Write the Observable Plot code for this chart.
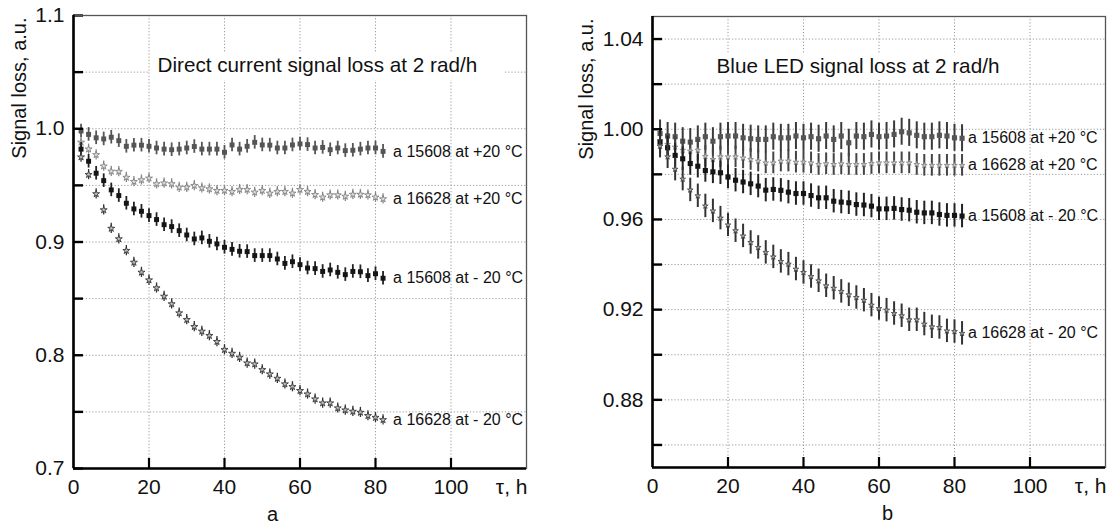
<!DOCTYPE html>
<html><head><meta charset="utf-8">
<script src="https://cdn.jsdelivr.net/npm/d3@7"></script>
<script src="https://cdn.jsdelivr.net/npm/@observablehq/plot@0.6"></script>
<style>
body{margin:0;background:#fff;}
#wrap{display:flex;width:1109px;height:524px;overflow:hidden;}
#wrap svg{flex:none;}
</style></head><body><div id="wrap"></div>
<script>
// ---------- data ----------
const hours = [2,4,6,8,10,12,14,16,18,20,22,24,26,28,30,32,34,36,38,40,42,44,46,48,50,52,54,56,58,60,62,64,66,68,70,72,74,76,78,80,82];

// panel a: Direct current signal loss
const dc15608p20 = [0.998,0.995,0.992,0.991,0.9925,0.9895,0.9845,0.9855,0.9855,0.9845,0.983,0.982,0.9815,0.982,0.983,0.9843,0.982,0.982,0.982,0.9792,0.9857,0.982,0.9845,0.988,0.9857,0.9855,0.983,0.983,0.9857,0.9866,0.986,0.983,0.9835,0.9815,0.983,0.9807,0.981,0.982,0.983,0.983,0.980];
const dc16628p20 = [0.988,0.982,0.977,0.967,0.9624,0.9622,0.957,0.9533,0.9548,0.9563,0.9513,0.952,0.9513,0.9483,0.9483,0.9498,0.9477,0.9468,0.9454,0.9454,0.9445,0.9463,0.9463,0.9439,0.9454,0.943,0.9445,0.9445,0.943,0.9463,0.9445,0.9418,0.9395,0.9415,0.9415,0.9403,0.942,0.942,0.9415,0.9395,0.938];
const dc15608m20 = [0.982,0.9713,0.9607,0.9542,0.946,0.941,0.9342,0.9292,0.9271,0.9233,0.9198,0.9153,0.9136,0.91,0.9062,0.9027,0.9036,0.9006,0.8983,0.8953,0.8935,0.8918,0.8915,0.888,0.888,0.888,0.885,0.8811,0.8826,0.88,0.877,0.8765,0.874,0.8753,0.8732,0.8712,0.874,0.8737,0.8703,0.872,0.868];
const dc16628m20 = [0.975,0.9595,0.9425,0.9283,0.912,0.9027,0.8924,0.882,0.8732,0.8664,0.8594,0.852,0.8453,0.8373,0.8314,0.8252,0.8211,0.8173,0.812,0.8049,0.8016,0.7981,0.7931,0.7922,0.7872,0.7834,0.7795,0.7746,0.7722,0.7687,0.7657,0.7613,0.7578,0.7578,0.7534,0.7516,0.7504,0.7495,0.7466,0.745,0.743];
const dcErr = [0.006,0.0045,0.006,0.0045];

// panel b: Blue LED signal loss
const led15608p20 = [0.9981,0.997,0.9967,0.9947,0.9943,0.9955,0.9967,0.9947,0.9967,0.997,0.997,0.9962,0.9958,0.9955,0.9955,0.9967,0.9962,0.9962,0.997,0.9962,0.9967,0.9958,0.997,0.9955,0.997,0.994,0.997,0.9967,0.9977,0.9967,0.997,0.9977,0.9989,0.9984,0.9973,0.9967,0.9967,0.9973,0.997,0.9962,0.996];
const led16628p20 = [0.995,0.9933,0.9921,0.9907,0.9903,0.9907,0.988,0.9866,0.9878,0.9878,0.9878,0.9873,0.9866,0.9859,0.9851,0.9851,0.9859,0.9859,0.9854,0.9854,0.9851,0.9844,0.9847,0.9844,0.9847,0.9844,0.9844,0.9844,0.9848,0.9851,0.9851,0.9851,0.9851,0.9851,0.9844,0.984,0.984,0.984,0.984,0.984,0.984];
const led15608m20 = [0.9943,0.9918,0.9884,0.9869,0.9848,0.9836,0.9817,0.9811,0.9807,0.9788,0.9774,0.9766,0.9758,0.9748,0.973,0.9733,0.9729,0.9721,0.9715,0.9715,0.9706,0.9696,0.9696,0.9681,0.9677,0.9674,0.9666,0.9664,0.9659,0.9647,0.9647,0.9649,0.9644,0.9641,0.9632,0.9629,0.9629,0.9622,0.9618,0.9618,0.9615];
const led16628m20 = [0.9925,0.9878,0.9823,0.9779,0.9731,0.9705,0.966,0.9638,0.9606,0.9576,0.955,0.9527,0.9498,0.9476,0.9454,0.9434,0.9414,0.9402,0.938,0.9365,0.9347,0.9328,0.9306,0.9295,0.9281,0.9266,0.9254,0.9242,0.922,0.9205,0.9198,0.9183,0.9173,0.9155,0.9155,0.9136,0.9124,0.9121,0.9106,0.9103,0.9095];
const ledErr = [0.006,0.0048,0.0052,0.0052];

const seriesLabels = ["a 15608 at +20 °C","a 16628 at +20 °C","a 15608 at - 20 °C","a 16628 at - 20 °C"];
const xTickLabels = [0,20,40,60,80,100];
const xGrid = [20,40,60,80,100];
const dcYTicks = [0.7,0.8,0.9,1.0,1.1];
const dcYMinor = [0.75,0.85,0.95,1.05];
const ledYTicks = [0.88,0.92,0.96,1.00,1.04];
const ledYMinor = [0.86,0.90,0.94,0.98,1.02];
const titles = ["Direct current signal loss at 2 rad/h","Blue LED signal loss at 2 rad/h"];
const captions = ["a","b"];
const yLabel = "Signal loss, a.u.";
const xLabel = "τ, h";

// ---------- drawing ----------
const FONT = "'Liberation Sans', Arial, Helvetica, sans-serif";
const H = 524;
const TICKFONT = 21;

function panel(cfg) {
  const {width, ml, mr, mt, mb, yDomain, yTicks, yMinor, fmt, series, errs, styles,
         title, titleDx, box, caption, captionDx, ylabelDx, labelDx} = cfg;
  const plotW = width - ml - mr, plotH = H - mt - mb;
  const marks = [];
  marks.push(Plot.ruleY([...yTicks, ...yMinor], {y: d => d, stroke: "#9a9a9a", strokeWidth: 1, strokeDasharray: "1.2,2"}));
  marks.push(Plot.ruleX(xGrid, {x: d => d, stroke: "#9a9a9a", strokeWidth: 1, strokeDasharray: "1.2,2"}));
  marks.push((index, scales, values, dims) => {
    const r = document.createElementNS("http://www.w3.org/2000/svg", "rect");
    r.setAttribute("x", dims.marginLeft + box[0]);
    r.setAttribute("y", dims.marginTop + box[1]);
    r.setAttribute("width", box[2]);
    r.setAttribute("height", box[3]);
    r.setAttribute("fill", "white");
    return r;
  });
  marks.push(Plot.text([title], {frameAnchor: "top-left", dx: titleDx, dy: 50, textAnchor: "start", lineAnchor: "middle", fontSize: 20.7, fill: "#111"}));
  series.forEach((vals, k) => {
    const rows = vals.map((v, i) => ({x: hours[i], y: v, e: errs[k]}));
    const s = styles[k];
    marks.push(Plot.ruleX(rows, {x: "x", y1: d => d.y - d.e, y2: d => d.y + d.e, stroke: s.bar, strokeWidth: s.bw}));
    marks.push(Plot.dot(rows, {x: "x", y: "y", symbol: s.symbol, r: s.r, fill: s.fill, stroke: s.stroke, strokeWidth: s.sw}));
    const last = rows[rows.length - 1];
    marks.push(Plot.text([last], {x: "x", y: "y", text: () => seriesLabels[k], dx: labelDx, textAnchor: "start", fontSize: 16, fill: "#111"}));
  });
  marks.push(Plot.tickX(xGrid, {x: d => d, insetTop: plotH - 10, stroke: "#000", strokeWidth: 2.2}));
  marks.push(Plot.tickY([...yTicks, ...yMinor], {y: d => d, insetRight: plotW - 10, stroke: "#000", strokeWidth: 2.4}));
  marks.push(Plot.frame({stroke: "#555", strokeWidth: 1.3}));
  marks.push(Plot.axisX(xTickLabels, {tickSize: 0, tickPadding: 11, fontSize: TICKFONT, label: null, tickFormat: d => String(d)}));
  marks.push(Plot.axisY(yTicks, {tickSize: 0, tickPadding: 9, fontSize: TICKFONT, label: null, tickFormat: fmt}));
  marks.push(Plot.ruleX([0], {x: d => d, stroke: "#000", strokeWidth: 2.6}));
  marks.push(Plot.ruleY([yDomain[0]], {y: d => d, stroke: "#000", strokeWidth: 2.6}));
  marks.push(Plot.text([xLabel], {frameAnchor: "bottom-right", dx: 1, dy: 11, textAnchor: "end", lineAnchor: "top", fontSize: TICKFONT, fill: "#111"}));
  marks.push(Plot.text([caption], {frameAnchor: "bottom-left", dx: captionDx, dy: 46, textAnchor: "middle", lineAnchor: "middle", fontSize: 20, fill: "#111"}));
  marks.push(Plot.text([yLabel], {frameAnchor: "top-left", dx: ylabelDx, dy: 2, rotate: -90, textAnchor: "end", lineAnchor: "middle", fontSize: 20, fill: "#111"}));

  return Plot.plot({
    width, height: H,
    marginLeft: ml, marginRight: mr, marginTop: mt, marginBottom: mb,
    x: {domain: [0, 120]},
    y: {domain: yDomain},
    style: {fontFamily: FONT, fontSize: TICKFONT + "px", background: "white", color: "#111", overflow: "visible"},
    marks
  });
}

const dcStyles = [
  {symbol: "square", r: 2.8, fill: "#555", stroke: "none", sw: 0, bar: "#555", bw: 1.8},
  {symbol: "star", r: 2.2, fill: "#ddd", stroke: "#777", sw: 0.8, bar: "#888", bw: 1.3},
  {symbol: "square", r: 2.8, fill: "#151515", stroke: "none", sw: 0, bar: "#222", bw: 1.8},
  {symbol: "star", r: 2.2, fill: "#bbb", stroke: "#2a2a2a", sw: 0.8, bar: "#333", bw: 1.3}
];
const ledStyles = [
  {symbol: "square", r: 2.9, fill: "#555", stroke: "none", sw: 0, bar: "#3a3a3a", bw: 2},
  {symbol: "star", r: 1.8, fill: "#ccc", stroke: "#777", sw: 0.7, bar: "#444", bw: 2},
  {symbol: "square", r: 2.9, fill: "#151515", stroke: "none", sw: 0, bar: "#222", bw: 2},
  {symbol: "star", r: 1.8, fill: "#aaa", stroke: "#333", sw: 0.7, bar: "#333", bw: 2}
];

const wrap = document.getElementById("wrap");
wrap.appendChild(panel({
  width: 555, ml: 73, mr: 29, mt: 15, mb: 56,
  yDomain: [0.7, 1.1], yTicks: dcYTicks, yMinor: dcYMinor, fmt: d3.format(".1f"),
  series: [dc15608p20, dc16628p20, dc15608m20, dc16628m20], errs: dcErr, styles: dcStyles,
  title: titles[0], titleDx: 84, box: [77, 38, 353, 27],
  caption: captions[0], captionDx: 199, ylabelDx: -54, labelDx: 10
}));
wrap.appendChild(panel({
  width: 554, ml: 97, mr: 4, mt: 16, mb: 57,
  yDomain: [0.85, 1.05], yTicks: ledYTicks, yMinor: ledYMinor, fmt: d3.format(".2f"),
  series: [led15608p20, led16628p20, led15608m20, led16628m20], errs: ledErr, styles: ledStyles,
  title: titles[1], titleDx: 64, box: [58, 37, 302, 27],
  caption: captions[1], captionDx: 235, ylabelDx: -66, labelDx: 6
}));
</script>
</body></html>
